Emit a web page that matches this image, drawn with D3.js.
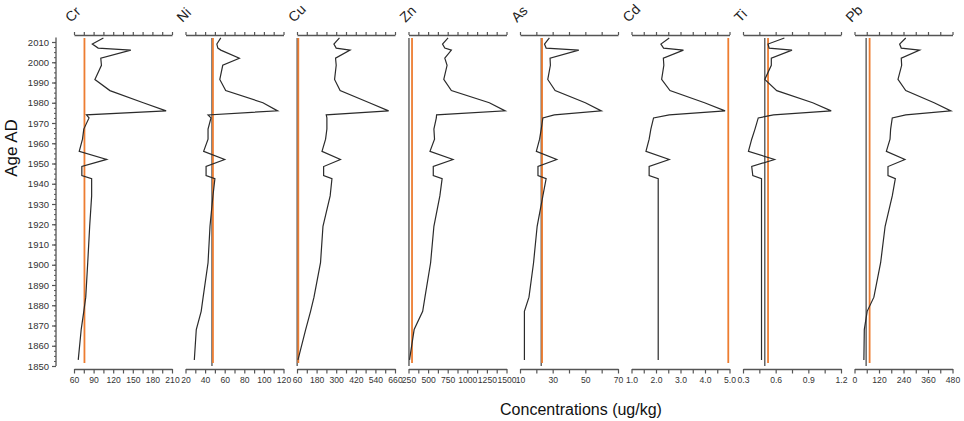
<!DOCTYPE html>
<meta charset="utf-8" />
<style>
  body {
    margin: 0;
    background: #fff;
  }
  text {
    font-family: Arial, "Liberation Sans", sans-serif;
  }
</style>

<body>
  <div id="chart"></div>
  <script src="https://cdn.jsdelivr.net/npm/d3@7/dist/d3.min.js"></script>
  <script>
    // sample ages (AD) shared by all the profiles
    const years = [2012, 2009, 2007, 2006, 2002, 1998.5, 1991.5, 1986, 1980, 1976, 1974, 1972.5, 1967, 1962, 1956, 1952, 1948.5, 1944, 1942.5, 1934, 1919, 1901, 1884, 1877, 1868, 1853];

    const elements = ["Cr", "Ni", "Cu", "Zn", "As", "Cd", "Ti", "Pb"];

    const cr = [105, 88, 97, 147, 101, 102, 92, 115, 166, 201, 79, 83, 75, 73, 68, 110, 72, 72, 87, 87, 84, 81, 78, 75, 71, 66.5];
    const ni = [56, 52, 53, 56, 75, 58, 55, 61, 99, 114, 43, 46, 43, 43, 38.5, 60, 41, 41, 50, 48, 45, 43, 38, 36, 31, 29];
    const cu = [320, 286, 300, 385, 296, 300, 290, 324, 503, 621, 239, 243, 243, 235, 213, 326, 223, 223, 274, 263, 219, 204, 164, 143, 113, 66];
    const zn = [755, 684, 713, 797, 713, 742, 700, 797, 1281, 1483, 608, 605, 574, 582, 524, 818, 566, 566, 679, 650, 574, 532, 460, 431, 322, 263];
    const as = [28, 25, 26, 46, 28.4, 28.6, 27, 31.5, 50, 59.8, 31, 24, 23, 22, 20, 32.5, 21, 21, 26, 24, 20.5, 18.3, 15.5, 12.7, 12.7, 12.7];
    const cd = [2.54, 2.2, 2.31, 3.12, 2.3, 2.32, 2.23, 2.57, 3.98, 4.82, 2.54, 1.9, 1.79, 1.72, 1.59, 2.54, 1.72, 1.72, 2.09, 2.09, 2.09, 2.09, 2.09, 2.09, 2.09, 2.09];
    const ti = [0.68, 0.53, 0.54, 0.75, 0.56, 0.56, 0.5, 0.61, 0.94, 1.11, 0.58, 0.44, 0.41, 0.38, 0.35, 0.59, 0.38, 0.39, 0.47, 0.47, 0.47, 0.47, 0.47, 0.47, 0.47, 0.47];
    const pb = [251, 221, 229, 319, 229, 231, 213, 251, 390, 472, 251, 185, 177, 174, 156, 247, 164, 164, 200, 185, 150, 128, 95, 62, 48, 46];
    const series = [cr, ni, cu, zn, as, cd, ti, pb];

    // reference levels: grey = background, orange = guideline (null = none)
    const background = [null, 47, 61, 256, 23, null, 0.5, 57];
    const guideline = [76, 48, 68, 295, 23.5, 4.95, 0.53, 74];

    // axis extents and ticks
    const domains = [[60, 210], [20, 120], [60, 660], [250, 1500], [10, 70], [1, 5], [0.3, 1.2], [0, 480]];
    const tickSteps = [15, 10, 60, 125, 10, 0.5, 0.15, 60];
    const crLabels = [60, 90, 120, 150, 180, 210];
    const niLabels = [20, 40, 60, 80, 100, 120];
    const cuLabels = [60, 180, 300, 420, 540, 660];
    const znLabels = [250, 500, 750, 1000, 1250, 1500];
    const asLabels = [10, 30, 50, 70];
    const cdLabels = [1, 2, 3, 4, 5];
    const tiLabels = [0.3, 0.6, 0.9, 1.2];
    const pbLabels = [0, 120, 240, 360, 480];
    const tickLabels = [crLabels, niLabels, cuLabels, znLabels, asLabels, cdLabels, tiLabels, pbLabels];
    const labelFormats = ["d", "d", "d", "d", "d", ".1f", ".1f", "d"];

    const yearTicks = [1850, 1860, 1870, 1880, 1890, 1900, 1910, 1920, 1930, 1940, 1950, 1960, 1970, 1980, 1990, 2000, 2010];

    const width = 964;
    const height = 421;
    const axisColor = "#555";

    const svg = d3.select("#chart").append("svg").attr("width", width).attr("height", height);

    const y = d3.scaleLinear().domain([1850, 2010]).range([366, 42]);
    const panelX = d3.scaleLinear().domain([0, 7]).range([74, 854.5]);
    const panelW = 98;

    // y axis
    const yAxis = svg
      .append("g")
      .attr("transform", "translate(56,0)")
      .call(d3.axisLeft(y).tickValues(yearTicks).tickSize(4).tickPadding(3).tickFormat(d3.format("d")));
    yAxis.select(".domain").remove();
    yAxis.selectAll("line").attr("stroke", axisColor).attr("stroke-width", 1.2);
    yAxis.selectAll("text").attr("font-size", "9.5px").attr("fill", "#333").attr("font-family", "Arial, 'Liberation Sans', sans-serif");

    const yMinor = svg
      .append("g")
      .attr("transform", "translate(56,0)")
      .call(d3.axisLeft(y).tickValues(d3.range(1850, 2011, 2.5)).tickSize(2).tickFormat(""));
    yMinor.select(".domain").remove();
    yMinor.selectAll("line").attr("stroke", axisColor).attr("stroke-width", 1);

    svg
      .append("line")
      .attr("x1", 56)
      .attr("x2", 56)
      .attr("y1", y(2012.2))
      .attr("y2", y(1850))
      .attr("stroke", axisColor)
      .attr("stroke-width", 1.3);

    svg
      .append("text")
      .attr("transform", "translate(17," + 148 + ") rotate(-90)")
      .attr("text-anchor", "middle")
      .attr("font-size", "17px")
      .attr("fill", "#111")
      .text("Age AD");

    elements.forEach((name, i) => {
      const x0 = panelX(i);
      const x = d3.scaleLinear().domain(domains[i]).range([x0, x0 + panelW]);
      const [lo, hi] = domains[i];
      const n = Math.round((hi - lo) / tickSteps[i]);
      const ticks = d3.range(0, n + 1).map((k) => +(lo + k * tickSteps[i]).toFixed(3));
      const fmt = d3.format(labelFormats[i]);
      const labels = tickLabels[i];

      const g = svg.append("g");

      // bottom axis with values
      const bottom = g
        .append("g")
        .attr("transform", "translate(0,369)")
        .call(
          d3
            .axisBottom(x)
            .tickValues(ticks)
            .tickSize(4.5)
            .tickSizeOuter(0)
            .tickPadding(3)
            .tickFormat((d) => (labels.some((l) => Math.abs(l - d) < 1e-6) ? fmt(d) : "")),
        );
      bottom.select(".domain").attr("stroke", axisColor).attr("stroke-width", 1.3);
      bottom.selectAll("line").attr("stroke", axisColor).attr("stroke-width", 1.2);
      bottom.selectAll("text").attr("font-size", "8.6px").attr("fill", "#333").attr("font-family", "Arial, 'Liberation Sans', sans-serif");

      // top axis, ticks only
      const top = g
        .append("g")
        .attr("transform", "translate(0,35)")
        .call(d3.axisTop(x).tickValues(ticks).tickSize(3).tickSizeOuter(0).tickFormat(""));
      top.select(".domain").attr("stroke", axisColor).attr("stroke-width", 1.3);
      top.selectAll("line").attr("stroke", axisColor).attr("stroke-width", 1.2);

      // reference lines
      if (background[i] !== null) {
        g.append("line")
          .attr("x1", x(background[i]))
          .attr("x2", x(background[i]))
          .attr("y1", 38)
          .attr("y2", 366)
          .attr("stroke", "#5a5a5a")
          .attr("stroke-width", 1.4);
      }
      g.append("line")
        .attr("x1", x(guideline[i]))
        .attr("x2", x(guideline[i]))
        .attr("y1", 38)
        .attr("y2", 363)
        .attr("stroke", "#ED7D31")
        .attr("stroke-width", 1.8);

      // profile
      const pts = years.map((yr, j) => ({ year: yr, v: series[i][j] }));
      const line = d3
        .line()
        .x((d) => x(d.v))
        .y((d) => y(d.year));
      g.append("path")
        .datum(pts)
        .attr("d", line)
        .attr("fill", "none")
        .attr("stroke", "#2b2b2b")
        .attr("stroke-width", 1.2)
        .attr("stroke-linejoin", "miter");

      // element name
      g.append("text")
        .attr("transform", "translate(" + (x0 - 3) + ",23) rotate(-45)")
        .attr("font-size", "14px")
        .attr("fill", "#222")
        .text(name);
    });

    svg
      .append("text")
      .attr("x", 581)
      .attr("y", 415)
      .attr("text-anchor", "middle")
      .attr("font-size", "16px")
      .attr("font-family", "Lato, 'Open Sans', sans-serif")
      .attr("fill", "#111")
      .text("Concentrations (ug/kg)");
  </script>
</body>
